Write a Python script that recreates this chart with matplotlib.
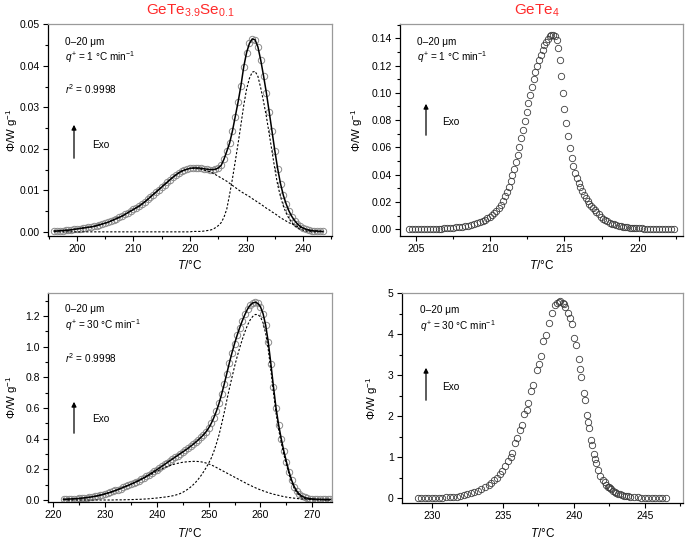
import matplotlib
matplotlib.use('Agg')
import matplotlib.pyplot as plt
from matplotlib.ticker import MultipleLocator, FormatStrFormatter
from matplotlib.patches import FancyArrowPatch

plt.rcParams['font.family'] = ['Liberation Sans', 'DejaVu Sans']
plt.rcParams['mathtext.fontset'] = 'custom'
plt.rcParams['mathtext.rm'] = 'Liberation Sans'
plt.rcParams['mathtext.it'] = 'Liberation Sans:italic'
plt.rcParams['mathtext.bf'] = 'Liberation Sans:bold'

# ---------------- data: GeTe3.9Se0.1, 1 C/min ----------------
T_tl = [196.0, 196.5, 197.0, 197.5, 198.0, 198.5, 199.0, 199.5, 200.0, 200.5,
        201.0, 201.5, 202.0, 202.5, 203.0, 203.5, 204.0, 204.5, 205.0, 205.5,
        206.0, 206.5, 207.0, 207.5, 208.0, 208.5, 209.0, 209.5, 210.0, 210.5,
        211.0, 211.5, 212.0, 212.5, 213.0, 213.5, 214.0, 214.5, 215.0, 215.5,
        216.0, 216.5, 217.0, 217.5, 218.0, 218.5, 219.0, 219.5, 220.0, 220.5,
        221.0, 221.5, 222.0, 222.5, 223.0, 223.5, 224.0, 224.5, 225.0, 225.5,
        226.0, 226.5, 227.0, 227.5, 228.0, 228.5, 229.0, 229.5, 230.0, 230.5,
        231.0, 231.5, 232.0, 232.5, 233.0, 233.5, 234.0, 234.5, 235.0, 235.5,
        236.0, 236.5, 237.0, 237.5, 238.0, 238.5, 239.0, 239.5, 240.0, 240.5,
        241.0, 241.5, 242.0, 242.5, 243.0, 243.5]
phi_tl = [0.0002, 0.0002, 0.0003, 0.0003, 0.0004, 0.0004, 0.0005, 0.0006, 0.0007, 0.0008,
          0.0009, 0.0010, 0.0011, 0.0012, 0.0013, 0.0015, 0.0017, 0.0019, 0.0021, 0.0023,
          0.0026, 0.0029, 0.0032, 0.0035, 0.0038, 0.0042, 0.0046, 0.0050, 0.0054, 0.0058,
          0.0062, 0.0067, 0.0072, 0.0078, 0.0084, 0.0090, 0.0096, 0.0102, 0.0108, 0.0114,
          0.0120, 0.0126, 0.0132, 0.0137, 0.0142, 0.0146, 0.0149, 0.0151, 0.0153, 0.0154,
          0.0154, 0.0154, 0.0153, 0.0152, 0.0151, 0.0150, 0.0150, 0.0151, 0.0154, 0.0160,
          0.0175, 0.0194, 0.0214, 0.0243, 0.0278, 0.0313, 0.0352, 0.0398, 0.0432, 0.0454,
          0.0465, 0.0463, 0.0446, 0.0414, 0.0376, 0.0335, 0.0289, 0.0242, 0.0195, 0.0152,
          0.0116, 0.0088, 0.0067, 0.0050, 0.0037, 0.0027, 0.0019, 0.0013, 0.0009, 0.0006,
          0.0004, 0.0003, 0.0002, 0.0002, 0.0001, 0.0001]
peak1_tl = [0.0002, 0.0002, 0.0003, 0.0003, 0.0004, 0.0004, 0.0005, 0.0006, 0.0007, 0.0008,
            0.0009, 0.0010, 0.0011, 0.0012, 0.0013, 0.0015, 0.0017, 0.0019, 0.0021, 0.0023,
            0.0026, 0.0029, 0.0032, 0.0035, 0.0038, 0.0042, 0.0046, 0.0050, 0.0054, 0.0058,
            0.0062, 0.0067, 0.0072, 0.0078, 0.0084, 0.0090, 0.0096, 0.0102, 0.0108, 0.0114,
            0.0120, 0.0126, 0.0132, 0.0137, 0.0142, 0.0146, 0.0149, 0.0151, 0.0153, 0.0153,
            0.0153, 0.0152, 0.0151, 0.0149, 0.0147, 0.0145, 0.0142, 0.0138, 0.0134, 0.0130,
            0.0126, 0.0122, 0.0117, 0.0112, 0.0107, 0.0102, 0.0097, 0.0093, 0.0089, 0.0085,
            0.0080, 0.0076, 0.0071, 0.0067, 0.0062, 0.0057, 0.0053, 0.0048, 0.0044, 0.0039,
            0.0034, 0.0030, 0.0026, 0.0022, 0.0019, 0.0016, 0.0013, 0.0011, 0.0009, 0.0007,
            0.0005, 0.0004, 0.0003, 0.0002, 0.0002, 0.0001]
peak2_tl = [0.0, 0.0, 0.0, 0.0, 0.0, 0.0, 0.0, 0.0, 0.0, 0.0,
            0.0, 0.0, 0.0, 0.0, 0.0, 0.0, 0.0, 0.0, 0.0, 0.0,
            0.0, 0.0, 0.0, 0.0, 0.0, 0.0, 0.0, 0.0, 0.0, 0.0,
            0.0, 0.0, 0.0, 0.0, 0.0, 0.0, 0.0, 0.0, 0.0, 0.0,
            0.0, 0.0, 0.0, 0.0, 0.0, 0.0, 0.0, 0.0, 0.0, 0.0001,
            0.0001, 0.0001, 0.0001, 0.0002, 0.0003, 0.0004, 0.0006, 0.0010, 0.0015, 0.0022,
            0.0035, 0.0055, 0.0090, 0.0128, 0.0170, 0.0213, 0.0258, 0.0305, 0.0344, 0.0370,
            0.0385, 0.0387, 0.0375, 0.0347, 0.0314, 0.0278, 0.0236, 0.0194, 0.0151, 0.0113,
            0.0085, 0.0062, 0.0045, 0.0032, 0.0022, 0.0015, 0.0010, 0.0006, 0.0004, 0.0002,
            0.0001, 0.0, 0.0, 0.0, 0.0, 0.0]

# ---------------- data: GeTe4, 1 C/min ----------------
T_tr = [204.5, 204.7, 204.9, 205.1, 205.3, 205.5, 205.7, 205.9, 206.1, 206.3,
        206.5, 206.7, 206.9, 207.1, 207.3, 207.5, 207.7, 207.9, 208.1, 208.3,
        208.5, 208.7, 208.9, 209.1, 209.3, 209.5, 209.65, 209.8, 209.95, 210.1,
        210.25, 210.4, 210.55, 210.7, 210.85, 211.0, 211.12, 211.24, 211.36, 211.48,
        211.6, 211.72, 211.84, 211.96, 212.08, 212.2, 212.32, 212.44, 212.56, 212.68,
        212.8, 212.92, 213.04, 213.16, 213.28, 213.4, 213.52, 213.64, 213.76, 213.88,
        214.0, 214.12, 214.24, 214.36, 214.47, 214.57, 214.67, 214.77, 214.88, 214.99,
        215.1, 215.22, 215.35, 215.48, 215.6, 215.72, 215.84, 215.96, 216.08, 216.2,
        216.32, 216.44, 216.56, 216.68, 216.8, 216.92, 217.04, 217.16, 217.3, 217.45,
        217.6, 217.75, 217.9, 218.05, 218.2, 218.35, 218.5, 218.65, 218.8, 218.95,
        219.1, 219.25, 219.4, 219.55, 219.7, 219.85, 220.0, 220.2, 220.4, 220.6,
        220.8, 221.0, 221.2, 221.4, 221.6, 221.8, 222.0, 222.2, 222.4]
phi_tr = [0.0000, 0.0000, 0.0000, 0.0000, 0.0001, 0.0001, 0.0002, 0.0002, 0.0003, 0.0003,
          0.0004, 0.0005, 0.0006, 0.0008, 0.0009, 0.0011, 0.0013, 0.0016, 0.0019, 0.0022,
          0.0026, 0.0031, 0.0037, 0.0044, 0.0052, 0.0061, 0.0069, 0.0079, 0.0090, 0.0103,
          0.0118, 0.0135, 0.0155, 0.0178, 0.0205, 0.0240, 0.0275, 0.0312, 0.0352, 0.0394,
          0.0440, 0.0490, 0.0545, 0.0605, 0.0668, 0.0730, 0.0795, 0.0860, 0.0925, 0.0985,
          0.1045, 0.1100, 0.1150, 0.1195, 0.1238, 0.1278, 0.1315, 0.1348, 0.1375, 0.1398,
          0.1415, 0.1425, 0.1427, 0.1418, 0.1388, 0.1330, 0.1240, 0.1120, 0.1000, 0.0885,
          0.0780, 0.0685, 0.0598, 0.0525, 0.0465, 0.0415, 0.0374, 0.0340, 0.0308, 0.0280,
          0.0254, 0.0230, 0.0208, 0.0188, 0.0170, 0.0153, 0.0138, 0.0124, 0.0110, 0.0090,
          0.0078, 0.0067, 0.0057, 0.0048, 0.0041, 0.0035, 0.0030, 0.0026, 0.0022, 0.0019,
          0.0016, 0.0014, 0.0012, 0.0010, 0.0009, 0.0008, 0.0007, 0.0006, 0.0005, 0.0004,
          0.0003, 0.0003, 0.0002, 0.0002, 0.0001, 0.0001, 0.0001, 0.0000, 0.0000]

# ---------------- data: GeTe3.9Se0.1, 30 C/min ----------------
T_bl = [222.0, 222.5, 223.0, 223.5, 224.0, 224.5, 225.0, 225.5, 226.0, 226.5,
        227.0, 227.5, 228.0, 228.5, 229.0, 229.5, 230.0, 230.5, 231.0, 231.5,
        232.0, 232.5, 233.0, 233.5, 234.0, 234.5, 235.0, 235.5, 236.0, 236.5,
        237.0, 237.5, 238.0, 238.5, 239.0, 239.5, 240.0, 240.5, 241.0, 241.5,
        242.0, 242.5, 243.0, 243.5, 244.0, 244.5, 245.0, 245.5, 246.0, 246.5,
        247.0, 247.5, 248.0, 248.5, 249.0, 249.5, 250.0, 250.5, 251.0, 251.5,
        252.0, 252.5, 253.0, 253.5, 254.0, 254.5, 255.0, 255.5, 256.0, 256.5,
        257.0, 257.5, 258.0, 258.5, 259.0, 259.5, 260.0, 260.5, 261.0, 261.5,
        262.0, 262.5, 263.0, 263.5, 264.0, 264.5, 265.0, 265.5, 266.0, 266.5,
        267.0, 267.5, 268.0, 268.5, 269.0, 269.5, 270.0, 270.5, 271.0, 271.5,
        272.0, 272.5, 273.0, 273.5]
phi_bl = [0.005, 0.005, 0.006, 0.007, 0.008, 0.009, 0.010, 0.012, 0.014, 0.016,
          0.018, 0.021, 0.024, 0.027, 0.031, 0.035, 0.040, 0.045, 0.050, 0.056,
          0.062, 0.068, 0.075, 0.082, 0.089, 0.096, 0.103, 0.111, 0.119, 0.127,
          0.136, 0.145, 0.155, 0.165, 0.176, 0.187, 0.198, 0.209, 0.221, 0.232,
          0.244, 0.256, 0.267, 0.279, 0.290, 0.302, 0.313, 0.325, 0.337, 0.350,
          0.363, 0.377, 0.392, 0.408, 0.425, 0.445, 0.470, 0.500, 0.537, 0.580,
          0.630, 0.690, 0.755, 0.825, 0.895, 0.960, 1.020, 1.075, 1.125, 1.170,
          1.210, 1.245, 1.270, 1.285, 1.290, 1.282, 1.260, 1.215, 1.140, 1.030,
          0.890, 0.740, 0.600, 0.490, 0.400, 0.320, 0.250, 0.185, 0.130, 0.088,
          0.058, 0.038, 0.025, 0.017, 0.012, 0.009, 0.007, 0.006, 0.005, 0.005,
          0.004, 0.004, 0.004, 0.004]
peak1_bl = [0.005, 0.005, 0.006, 0.007, 0.008, 0.009, 0.010, 0.012, 0.014, 0.016,
            0.018, 0.021, 0.024, 0.027, 0.031, 0.035, 0.040, 0.045, 0.050, 0.056,
            0.062, 0.068, 0.075, 0.082, 0.089, 0.096, 0.103, 0.110, 0.118, 0.126,
            0.134, 0.142, 0.151, 0.160, 0.169, 0.178, 0.187, 0.195, 0.203, 0.211,
            0.218, 0.224, 0.230, 0.235, 0.239, 0.243, 0.246, 0.248, 0.250, 0.251,
            0.252, 0.252, 0.251, 0.249, 0.246, 0.241, 0.235, 0.229, 0.221, 0.212,
            0.203, 0.194, 0.185, 0.176, 0.167, 0.158, 0.149, 0.140, 0.131, 0.122,
            0.113, 0.104, 0.096, 0.088, 0.080, 0.073, 0.066, 0.060, 0.054, 0.048,
            0.043, 0.038, 0.034, 0.030, 0.026, 0.022, 0.019, 0.016, 0.014, 0.012,
            0.010, 0.008, 0.007, 0.006, 0.005, 0.004, 0.003, 0.003, 0.002, 0.002,
            0.002, 0.001, 0.001, 0.001]
peak2_bl = [0.0, 0.0, 0.0, 0.0, 0.0, 0.0, 0.0, 0.0, 0.0, 0.0,
            0.0, 0.0, 0.0, 0.0, 0.0, 0.0, 0.0, 0.0, 0.0, 0.0,
            0.001, 0.001, 0.001, 0.001, 0.002, 0.002, 0.003, 0.003, 0.004, 0.004,
            0.005, 0.006, 0.007, 0.008, 0.010, 0.011, 0.013, 0.015, 0.017, 0.019,
            0.021, 0.024, 0.027, 0.031, 0.036, 0.042, 0.050, 0.060, 0.071, 0.084,
            0.099, 0.116, 0.136, 0.158, 0.183, 0.210, 0.240, 0.273, 0.316, 0.368,
            0.425, 0.495, 0.570, 0.650, 0.728, 0.800, 0.871, 0.935, 0.994, 1.048,
            1.097, 1.141, 1.174, 1.197, 1.210, 1.209, 1.194, 1.155, 1.086, 0.982,
            0.847, 0.702, 0.566, 0.460, 0.374, 0.298, 0.231, 0.169, 0.116, 0.076,
            0.048, 0.030, 0.018, 0.011, 0.007, 0.005, 0.003, 0.002, 0.001, 0.001,
            0.001, 0.0, 0.0, 0.0]

# ---------------- data: GeTe4, 30 C/min ----------------
T_br = [229.0, 229.25, 229.5, 229.75, 230.0, 230.25, 230.5, 230.75, 231.0, 231.25,
        231.5, 231.75, 232.0, 232.25, 232.5, 232.75, 233.0, 233.25, 233.5, 233.75,
        234.0, 234.2, 234.4, 234.6, 234.8, 234.97, 235.16, 235.39, 235.55, 235.67,
        235.86, 235.98, 236.21, 236.33, 236.52, 236.68, 236.8, 237.01, 237.15, 237.41,
        237.57, 237.69, 237.85, 238.02, 238.27, 238.48, 238.67, 238.84, 238.93, 239.02,
        239.21, 239.32, 239.42, 239.61, 239.73, 239.89, 240.03, 240.15, 240.36, 240.43,
        240.52, 240.73, 240.78, 240.92, 241.02, 241.09, 241.25, 241.32, 241.41, 241.51,
        241.6, 241.72, 241.88, 242.07, 242.19, 242.3, 242.4, 242.49, 242.58, 242.66,
        242.77, 242.89, 243.0, 243.13, 243.28, 243.43, 243.57, 243.71, 243.85, 244.0,
        244.25, 244.5, 244.75, 245.0, 245.25, 245.5, 245.75, 246.0, 246.25, 246.5]
phi_br = [0.008, 0.008, 0.009, 0.010, 0.011, 0.013, 0.016, 0.020, 0.025, 0.031,
          0.038, 0.048, 0.060, 0.076, 0.097, 0.122, 0.152, 0.187, 0.228, 0.275,
          0.33, 0.38, 0.44, 0.51, 0.59, 0.67, 0.78, 0.90, 1.00, 1.11,
          1.34, 1.46, 1.66, 1.78, 2.05, 2.16, 2.33, 2.62, 2.77, 3.12,
          3.27, 3.46, 3.82, 3.97, 4.28, 4.52, 4.70, 4.76, 4.78, 4.80,
          4.76, 4.73, 4.67, 4.51, 4.40, 4.25, 3.90, 3.73, 3.39, 3.14,
          2.96, 2.57, 2.39, 2.03, 1.86, 1.72, 1.43, 1.31, 1.09, 0.97,
          0.87, 0.69, 0.54, 0.46, 0.41, 0.32, 0.29, 0.27, 0.245, 0.22,
          0.19, 0.16, 0.14, 0.12, 0.10, 0.08, 0.068, 0.057, 0.05, 0.042,
          0.033, 0.026, 0.020, 0.016, 0.013, 0.011, 0.010, 0.009, 0.009, 0.008]

titles = ['GeTe$_{3.9}$Se$_{0.1}$', 'GeTe$_{4}$']
label_size = '0\u201320 \u03bcm'
label_q1 = r'$q^{+}$ = 1 °C min$^{-1}$'
label_q30 = r'$q^{+}$ = 30 °C min$^{-1}$'
label_r2 = r'$r^{2}$ = 0.9998'

W, H = 685, 539
fig = plt.figure(figsize=(W / 100, H / 100), dpi=100)


def fx(x):
    return x / W


def fy(y):
    return 1 - y / H


def style(ax, xlim, ylim, xmaj, xmin, ymaj, ymin, yfmt, ylab_x, xlab_y):
    ax.set_xlim(*xlim)
    ax.set_ylim(*ylim)
    ax.xaxis.set_major_locator(MultipleLocator(xmaj))
    ax.xaxis.set_minor_locator(MultipleLocator(xmin))
    ax.yaxis.set_major_locator(MultipleLocator(ymaj))
    ax.yaxis.set_minor_locator(MultipleLocator(ymin))
    ax.yaxis.set_major_formatter(FormatStrFormatter(yfmt))
    ax.tick_params(which='both', direction='out', labelsize=7.5, width=0.8,
                   top=False, right=False, pad=2.5)
    ax.tick_params(which='major', length=3.5)
    ax.tick_params(which='minor', length=2)
    for s in ['top', 'right']:
        ax.spines[s].set_color('#9a9a9a')
        ax.spines[s].set_linewidth(0.9)
    for s in ['bottom', 'left']:
        ax.spines[s].set_linewidth(0.9)
    ax.set_xlabel(r'$T$/°C', fontsize=8.5)
    ax.set_ylabel(r'$\mathit{Φ}$/W g$^{-1}$', fontsize=8.2)
    ax.yaxis.set_label_coords(ylab_x, 0.5)
    ax.xaxis.set_label_coords(0.5, xlab_y)


def arrow(x, y0, y1):
    fig.add_artist(FancyArrowPatch((fx(x), fy(y0)), (fx(x), fy(y1)),
                                   transform=fig.transFigure, arrowstyle='-|>',
                                   mutation_scale=7, lw=0.9, color='black'))


def txt(x, y, s):
    fig.text(fx(x), fy(y), s, fontsize=7.2, ha='left', va='center')


dash = (0, (2.0, 1.6))

# ---- top left ----
ax1 = fig.add_axes([fx(48), fy(236), fx(332 - 48), (236 - 24) / H])
ax1.plot(T_tl, phi_tl, 'o', ms=4.6, mfc='none', mec='#8a8a8a', mew=0.7, zorder=2)
ax1.plot(T_tl, peak1_tl, color='black', lw=0.8, ls=dash, zorder=3)
ax1.plot(T_tl, peak2_tl, color='black', lw=0.8, ls=dash, zorder=3)
ax1.plot(T_tl, phi_tl, color='black', lw=1.1, zorder=4)
style(ax1, (194.9, 245.1), (-0.001, 0.0501), 10, 5, 0.01, 0.005, '%.2f', -0.10, -0.11)

# ---- top right ----
ax2 = fig.add_axes([fx(400), fy(236), fx(683 - 400), (236 - 24) / H])
ax2.plot(T_tr, phi_tr, 'o', ms=4.6, mfc='none', mec='#3c3c3c', mew=0.6)
style(ax2, (203.9, 223.0), (-0.005, 0.1505), 5, 2.5, 0.02, 0.01, '%.2f', -0.124, -0.11)

# ---- bottom left ----
ax3 = fig.add_axes([fx(48), fy(502), fx(332 - 48), (502 - 293) / H])
ax3.plot(T_bl, phi_bl, 'o', ms=4.6, mfc='none', mec='#8a8a8a', mew=0.7, zorder=2)
ax3.plot(T_bl, peak1_bl, color='black', lw=0.8, ls=dash, zorder=3)
ax3.plot(T_bl, peak2_bl, color='black', lw=0.8, ls=dash, zorder=3)
ax3.plot(T_bl, phi_bl, color='black', lw=1.1, zorder=4)
style(ax3, (219.0, 273.8), (-0.013, 1.35), 10, 5, 0.2, 0.1, '%.1f', -0.10, -0.12)

# ---- bottom right ----
ax4 = fig.add_axes([fx(402), fy(503), fx(683 - 402), (503 - 293) / H])
ax4.plot(T_br, phi_br, 'o', ms=4.6, mfc='none', mec='#3c3c3c', mew=0.6)
style(ax4, (227.9, 247.7), (-0.11, 5.0), 5, 2.5, 1, 0.5, '%d', -0.08, -0.115)

# titles
fig.text(fx(190), fy(11), titles[0], color='#ff2a2a', fontsize=11, ha='center', va='center')
fig.text(fx(537), fy(11), titles[1], color='#ff2a2a', fontsize=11, ha='center', va='center')

# annotations
txt(65, 42, label_size)
txt(65, 57, label_q1)
txt(65, 89, label_r2)
txt(92, 145, 'Exo')
arrow(74, 161, 122)

txt(417, 42, label_size)
txt(417, 57, label_q1)
txt(442, 122, 'Exo')
arrow(426, 138, 101)

txt(65, 309, label_size)
txt(65, 325, label_q30)
txt(65, 358, label_r2)
txt(92, 419, 'Exo')
arrow(74, 436, 399)

txt(420, 310, label_size)
txt(420, 326, label_q30)
txt(442, 387, 'Exo')
arrow(426, 403, 365)

fig.savefig('out.png', dpi=100)
